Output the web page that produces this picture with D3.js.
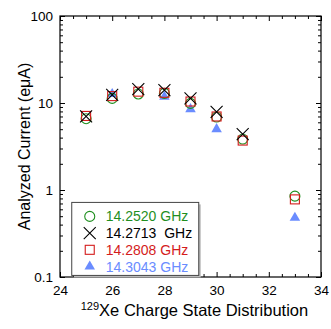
<!DOCTYPE html>
<html>
<head>
<meta charset="utf-8">
<script src="https://cdn.jsdelivr.net/npm/d3@7"></script>
<style>
  body { margin: 0; background: #fff; }
  text { font-family: "Liberation Sans", Arial, sans-serif; }
</style>
</head>
<body>
<div id="chart"></div>
<script>
const width = 331
const height = 329
const margin = {top: 16, right: 10, bottom: 52, left: 60}

// data
const states252 = [25, 26, 27, 28, 29, 30, 31, 33]
const current252 = [6.6, 11.3, 12.7, 12.9, 9.9, 6.9, 3.85, 0.85]
const states2713 = [25, 26, 27, 28, 29, 30, 31]
const current2713 = [7.0, 12.4, 14.4, 14.1, 11.3, 7.9, 4.4]
const states2808 = [25, 26, 27, 28, 29, 30, 31, 33]
const current2808 = [7.1, 12.0, 13.5, 13.1, 10.4, 7.0, 3.7, 0.78]
const states3043 = [26, 28, 29, 30, 33]
const current3043 = [12.7, 11.8, 8.5, 5.0, 0.48]

const seriesNames = ["14.2520 GHz", "14.2713  GHz", "14.2808 GHz", "14.3043 GHz"]
const seriesColors = ["#1f8f1f", "#000000", "#d41c1c", "#6a8cff"]
const xTicks = [24, 26, 28, 30, 32, 34]
const yTicks = [0.1, 1, 10, 100]

const series = [
  {name: seriesNames[0], color: seriesColors[0], shape: "circle", x: states252, y: current252},
  {name: seriesNames[1], color: seriesColors[1], shape: "cross", x: states2713, y: current2713},
  {name: seriesNames[2], color: seriesColors[2], shape: "square", x: states2808, y: current2808},
  {name: seriesNames[3], color: seriesColors[3], shape: "triangle", x: states3043, y: current3043}
]

const svg = d3.select("div#chart").append("svg").attr("width", width).attr("height", height)
const w = width - margin.left - margin.right
const h = height - margin.top - margin.bottom
const g = svg.append("g").attr("transform", `translate(${margin.left}, ${margin.top})`)

const x = d3.scaleLinear().domain([24, 34]).range([0, w])
const y = d3.scaleLog().domain([0.1, 100]).range([h, 0])

const xMinor = d3.range(24, 34.01, 0.5).filter(v => v % 2 !== 0)
const yMinor = []
for (let d = 0.1; d < 100; d *= 10) for (let k = 2; k <= 9; k++) yMinor.push(+(d * k).toFixed(3))

// axes, ticks inward on all four sides
const tickStyle = sel => {
  sel.select(".domain").remove()
  sel.selectAll("line").attr("stroke", "#000")
  sel.selectAll("text").attr("font-size", 13.5).attr("fill", "#000")
}
g.append("g").attr("transform", `translate(0,${h})`)
  .call(d3.axisBottom(x).tickValues(xTicks).tickSize(-5).tickPadding(8).tickFormat(d3.format("d"))).call(tickStyle)
g.append("g").attr("transform", `translate(0,${h})`)
  .call(d3.axisBottom(x).tickValues(xMinor).tickSize(-3).tickFormat("")).call(tickStyle)
g.append("g").call(d3.axisTop(x).tickValues(xTicks).tickSize(-5).tickFormat("")).call(tickStyle)
g.append("g").call(d3.axisTop(x).tickValues(xMinor).tickSize(-3).tickFormat("")).call(tickStyle)
g.append("g")
  .call(d3.axisLeft(y).tickValues(yTicks).tickSize(-5).tickPadding(7).tickFormat(d => d < 1 ? "0.1" : d3.format("d")(d))).call(tickStyle)
g.append("g").call(d3.axisLeft(y).tickValues(yMinor).tickSize(-3).tickFormat("")).call(tickStyle)
g.append("g").attr("transform", `translate(${w},0)`)
  .call(d3.axisRight(y).tickValues(yTicks).tickSize(-5).tickFormat("")).call(tickStyle)
g.append("g").attr("transform", `translate(${w},0)`)
  .call(d3.axisRight(y).tickValues(yMinor).tickSize(-3).tickFormat("")).call(tickStyle)

g.append("rect").attr("width", w).attr("height", h).attr("fill", "none").attr("stroke", "#000").attr("stroke-width", 1.2)

// markers
function drawMarker(sel, shape, color) {
  if (shape === "circle") {
    sel.append("circle").attr("r", 5).attr("fill", "none").attr("stroke", color).attr("stroke-width", 1.1)
  } else if (shape === "cross") {
    sel.append("path").attr("d", "M-6,-6L6,6M-6,6L6,-6").attr("stroke", color).attr("stroke-width", 1.1)
  } else if (shape === "square") {
    sel.append("rect").attr("x", -4.5).attr("y", -4.5).attr("width", 9).attr("height", 9)
      .attr("fill", "none").attr("stroke", color).attr("stroke-width", 1.1)
  } else {
    sel.append("path").attr("d", d3.symbol(d3.symbolTriangle, 48)()).attr("fill", color)
  }
}

// draw order: triangles underneath
const drawOrder = [3, 0, 2, 1]
drawOrder.forEach(i => {
  const s = series[i]
  const pts = s.x.map((v, j) => ({x: v, y: s.y[j]}))
  g.append("g").selectAll("g").data(pts).enter().append("g")
    .attr("transform", d => `translate(${x(d.x)},${y(d.y)})`)
    .each(function() { drawMarker(d3.select(this), s.shape, s.color) })
})

// legend
const leg = g.append("g").attr("transform", `translate(${x(24.45)},${y(0.72)})`)
leg.append("rect").attr("x", 2).attr("y", 2).attr("width", 127).attr("height", 73).attr("fill", "#bbb")
leg.append("rect").attr("width", 127).attr("height", 73).attr("fill", "#fff").attr("stroke", "#444").attr("stroke-width", 1)
series.forEach((s, i) => {
  const row = leg.append("g").attr("transform", `translate(18,${14 + i * 16.7})`)
  drawMarker(row, s.shape, s.color)
  row.append("text").attr("x", 16).attr("y", 5).attr("font-size", 14).attr("fill", s.color)
    .style("white-space", "pre").attr("xml:space", "preserve").text(s.name)
})

// axis titles
svg.append("text")
  .attr("transform", `translate(30,${margin.top + h / 2}) rotate(-90)`)
  .attr("text-anchor", "middle").attr("font-size", 16).text("Analyzed Current (eμA)")
const xt = svg.append("text").attr("x", margin.left + w / 2 + 4).attr("y", 316)
  .attr("text-anchor", "middle").attr("font-size", 16.5)
xt.append("tspan").attr("font-size", 11).attr("dy", -6).text("129")
xt.append("tspan").attr("dy", 6).text("Xe Charge State Distribution")
</script>
</body>
</html>
